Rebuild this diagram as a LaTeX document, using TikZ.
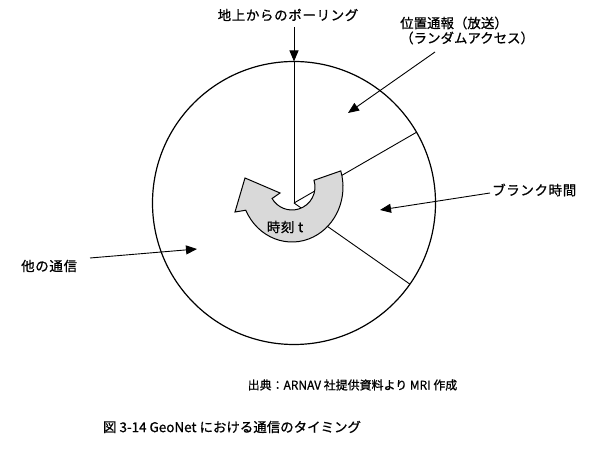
\documentclass[tikz,border=0pt]{standalone}
\usepackage{fontspec}
\setmainfont[FakeBold=0.8]{Noto Sans CJK JP}
\usetikzlibrary{arrows.meta,calc}
\tikzset{
  lbl/.style={inner sep=0pt, font=\fontsize{13.5}{15}\selectfont\addfontfeature{LetterSpace=5}},
  conn/.style={line width=0.9bp, -{Triangle[length=11bp,width=9bp]}},
  radial/.style={line width=0.9bp},
  ring/.style={line width=1.2bp},
  turn/.style={draw, line width=1bp, fill=gray!30, line join=miter}
}
\begin{document}
\begin{tikzpicture}[x=1bp,y=1bp]
\useasboundingbox (0,0) rectangle (600,451);
% circle and radii
\coordinate (O) at (294,248);
\coordinate (C) at (292,264);
\draw[ring] (O) circle[radius=141.5bp];
\coordinate (top) at ($(O)+(90:141.5bp)$);
\coordinate (ur) at ($(O)+(30:141.5bp)$);
\coordinate (lr) at ($(O)+(-35:141.5bp)$);
\draw[radial] (O) -- (top);
\draw[radial] (O) -- (ur);
\draw[radial] (O) -- (lr);
% curved arrow
\path[turn] ($(C)+(17:51bp and 55bp)$) -- ($(C)+(17:23bp)$)
  arc[start angle=17, end angle=-150, radius=23bp]
  -- (280,258) -- (245,273) -- (235,239)
  -- ($(C)+(-155:51bp and 55bp)$)
  arc[start angle=-155, end angle=17, x radius=51bp, y radius=55bp] -- cycle;
\node[inner sep=0pt, font=\fontsize{13.5}{13.5}\selectfont\addfontfeature{LetterSpace=5}] (time) at (285,224) {時刻 t};
% labels
\node[lbl] (poll) at (288,436) {地上からのポーリング};
\node[lbl, anchor=west, align=left, font=\fontsize{13.5}{15}\selectfont] (pos) at (400,420.5) {位置通報（放送）\\（ランダムアクセス）};
\node[lbl, anchor=west] (blank) at (492,261) {ブランク時間};
\node[lbl, anchor=west] (other) at (21,185) {他の通信};
% connectors
\coordinate (pollA) at (294,424);
\coordinate (posA) at (435,399);
\coordinate (posB) at (348,338);
\coordinate (blankA) at (490,258);
\coordinate (blankB) at (380,241);
\coordinate (otherA) at (90,193);
\coordinate (otherB) at (197,202);
\draw[conn] (pollA) -- (top);
\draw[conn] (posA) -- (posB);
\draw[conn] (blankA) -- (blankB);
\draw[conn] (otherA) -- (otherB);
% captions
\node[inner sep=0pt, font=\fontsize{12}{12}\selectfont] (src) at (352.5,66) {出典：ARNAV 社提供資料より MRI 作成};
\node[inner sep=0pt, font=\fontsize{13.5}{13.5}\selectfont] (title) at (232,24) {図 3-14 GeoNet における通信のタイミング};
\end{tikzpicture}
\end{document}
